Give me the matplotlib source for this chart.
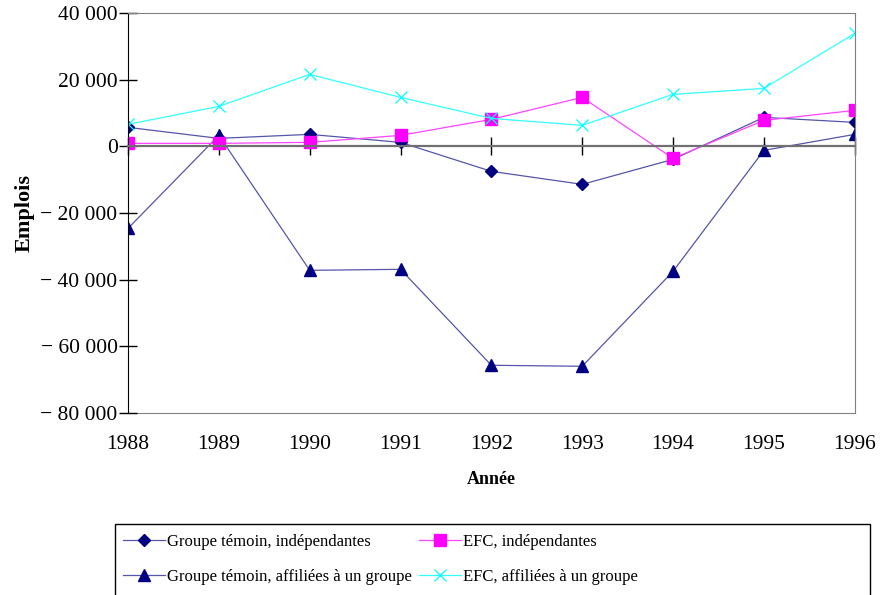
import numpy as np
import matplotlib.pyplot as plt
from matplotlib.ticker import FuncFormatter
from matplotlib.patches import Rectangle

plt.rcParams['font.family'] = ['Liberation Serif', 'DejaVu Serif']

annees = [1988, 1989, 1990, 1991, 1992, 1993, 1994, 1995, 1996]
temoin_indep = [5700, 2400, 3600, 1200, -7500, -11400, -3900, 8700, 7200]
temoin_affil = [-24600, 3300, -37200, -36900, -65700, -66000, -37500, -1200, 3600]
efc_indep = [900, 900, 1200, 3300, 8100, 14700, -3600, 7800, 10800]
efc_affil = [6600, 12000, 21600, 14700, 8400, 6300, 15600, 17400, 33900]

noms = ['Groupe témoin, indépendantes', 'Groupe témoin, affiliées à un groupe',
        'EFC, indépendantes', 'EFC, affiliées à un groupe']

fig = plt.figure(figsize=(8.83, 5.95), dpi=100)
ax = fig.add_axes([0.145, 0.306, 0.823, 0.672])

l1, = ax.plot(annees, temoin_indep, color='#5555aa', lw=0.9, marker='D', ms=6,
              mfc='#000080', mec='#000080')
l3, = ax.plot(annees, temoin_affil, color='#5555aa', lw=0.9, marker='^', ms=8.5,
              mfc='#000080', mec='#000080')
l2, = ax.plot(annees, efc_indep, color='#ff44ff', lw=0.9, marker='s', ms=8,
              mfc='#ff00ff', mec='#ff00ff')
l4, = ax.plot(annees, efc_affil, color='#33ffff', lw=0.9, marker='x', ms=8,
              mew=0.9, mec='#00ffff')

ax.set_xlim(1988, 1996)
ax.set_ylim(-80000, 40000)
ax.set_yticks(np.arange(-80000, 40001, 20000))


def fmt(v, pos):
    s = '{:,.0f}'.format(abs(v)).replace(',', ' ')
    return ('\u2212 ' + s) if v < 0 else s


ax.yaxis.set_major_formatter(FuncFormatter(fmt))
ax.tick_params(axis='y', direction='inout', length=13, width=1, labelsize=15.5, pad=1)

# l'axe des x croise à zéro, étiquettes en bas
ax.spines['bottom'].set_position(('data', 0))
ax.spines['bottom'].set_color('#707070')
ax.spines['bottom'].set_linewidth(1.6)
ax.set_xticks(annees)
ax.tick_params(axis='x', direction='inout', length=13, width=1, labelbottom=False)
for s in ['top', 'right']:
    ax.spines[s].set_color('#808080')
ax.spines['left'].set_color('black')

sec = ax.secondary_xaxis('bottom')
sec.set_xticks(annees)
sec.set_xticklabels([str(a) for a in annees])
sec.tick_params(length=0, labelsize=15.5, pad=16)
sec.spines['bottom'].set_color('#808080')
sec.set_xlabel('Année', fontweight='bold', fontsize=13, labelpad=12)

ax.set_ylabel('Emplois', fontweight='bold', fontsize=16, labelpad=4)

fig.patches.append(Rectangle((0.130, -0.01), 0.855, 0.129, transform=fig.transFigure,
                             fill=False, edgecolor='black', lw=1))
leg = fig.legend([l1, l3, l2, l4], noms, ncol=2, loc='upper left',
                 bbox_to_anchor=(0.132, 0.114), frameon=False,
                 fontsize=12, handlelength=2.5, columnspacing=0.4,
                 handletextpad=0.15, borderaxespad=0, labelspacing=1.15)

fig.savefig('out.png', dpi=100)
